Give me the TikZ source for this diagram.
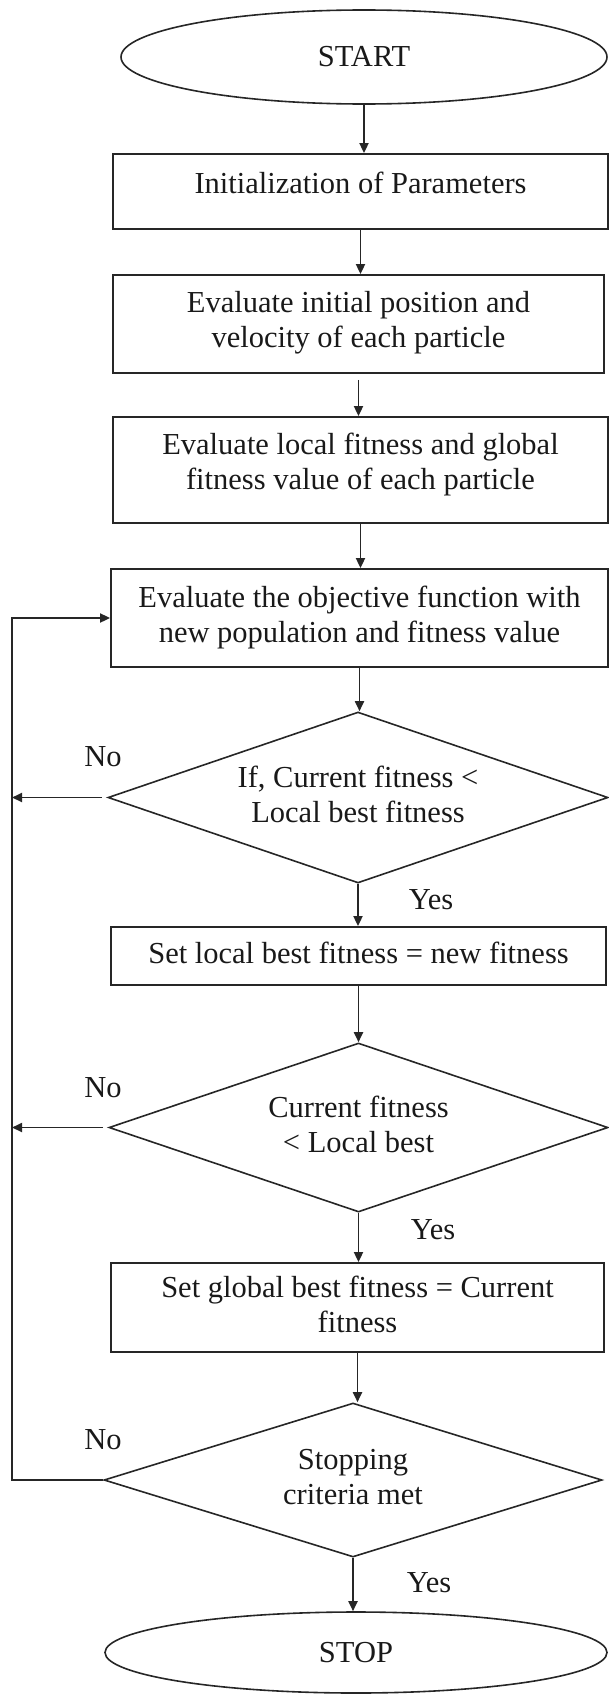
\documentclass[tikz,border=0pt]{standalone}
\usepackage{fontspec}
\setmainfont{Liberation Serif}
\usetikzlibrary{shapes.geometric,arrows.meta,calc}
\newcommand\tl[2][0pt]{\raisebox{0pt}[\height][\dimexpr\depth+#1\relax]{\begin{tabular}{@{}c@{}}#2\end{tabular}}}
\begin{document}
\begin{tikzpicture}[x=1pt,y=-1pt,
  every node/.style={font=\fontsize{30.5}{35}\selectfont, text=black!90, inner sep=0pt},
  ln/.style={line width=1.8pt, draw=black!85},
  arr/.style={ln, -{Triangle[length=10pt,width=9pt]}},
  procbox/.style={draw=black!85, line width=1.8pt, rectangle},
  term/.style={draw=black!85, line width=1.6pt, ellipse},
  decide/.style={draw=black!85, line width=1.6pt, diamond}]
\useasboundingbox (0,0) rectangle (609,1694);

\node[term, minimum width=486pt, minimum height=94pt] (start) at (364,57) {START};
\node[procbox, minimum width=495pt, minimum height=75pt] (b1) at (360.5,191.5) {\tl[11pt]{Initialization of Parameters}};
\node[procbox, minimum width=491pt, minimum height=98pt] (b2) at (358.5,324) {\tl[3pt]{Evaluate initial position and\\velocity of each particle}};
\node[procbox, minimum width=495pt, minimum height=106pt] (b3) at (360.5,470) {\tl[10pt]{Evaluate local fitness and global\\fitness value of each particle}};
\node[procbox, minimum width=497pt, minimum height=98pt] (b4) at (359.5,618) {\tl{Evaluate the objective function with\\new population and fitness value}};
\node[decide, minimum width=500pt, minimum height=171pt, aspect=2.92] (d1) at (358,797.5) {\tl{If, Current fitness <\\Local best fitness}};
\node[procbox, minimum width=495pt, minimum height=58pt] (b5) at (358.5,956) {\tl{Set local best fitness = new fitness}};
\node[decide, minimum width=499pt, minimum height=169pt, aspect=2.95] (d2) at (358.5,1127.5) {\tl{Current fitness\\< Local best}};
\node[procbox, minimum width=493pt, minimum height=89pt] (b6) at (357.5,1307.5) {\tl{Set global best fitness = Current\\fitness}};
\node[decide, minimum width=498pt, minimum height=154pt, aspect=3.23] (d3) at (353,1480) {\tl{Stopping\\criteria met}};
\node[term, minimum width=502pt, minimum height=81pt] (stop) at (356,1652.5) {STOP};

\node (no1) at (103,757) {No};
\node (no2) at (103,1088) {No};
\node (no3) at (103,1440) {No};
\node (yes1) at (431,900) {Yes};
\node (yes2) at (433,1230) {Yes};
\node (yes3) at (429,1583) {Yes};

\coordinate (lp) at (12,618);

\draw[arr] (start.south) -- (start.south |- b1.north);
\draw[arr] (b1.south) -- (b1.south |- b2.north);
\draw[arr] ([yshift=-6pt]b2.south) -- (b2.south |- b3.north);
\draw[arr] (b3.south) -- (b3.south |- b4.north);
\draw[arr] (b4.south) -- (b4.south |- d1.north);
\draw[arr] (d1.south) -- (d1.south |- b5.north);
\draw[arr] (b5.south) -- (b5.south |- d2.north);
\draw[arr] (d2.south) -- (d2.south |- b6.north);
\draw[arr] (b6.south) -- (b6.south |- d3.north);
\draw[arr] (d3.south) -- (d3.south |- stop.north);

\draw[arr] ([xshift=-5pt]d1.west) -- (d1.west -| lp);
\draw[arr] ([xshift=-5pt]d2.west) -- (d2.west -| lp);
\draw[arr] (d3.west) -- (d3.west -| lp) |- (b4.west);
\end{tikzpicture}
\end{document}
